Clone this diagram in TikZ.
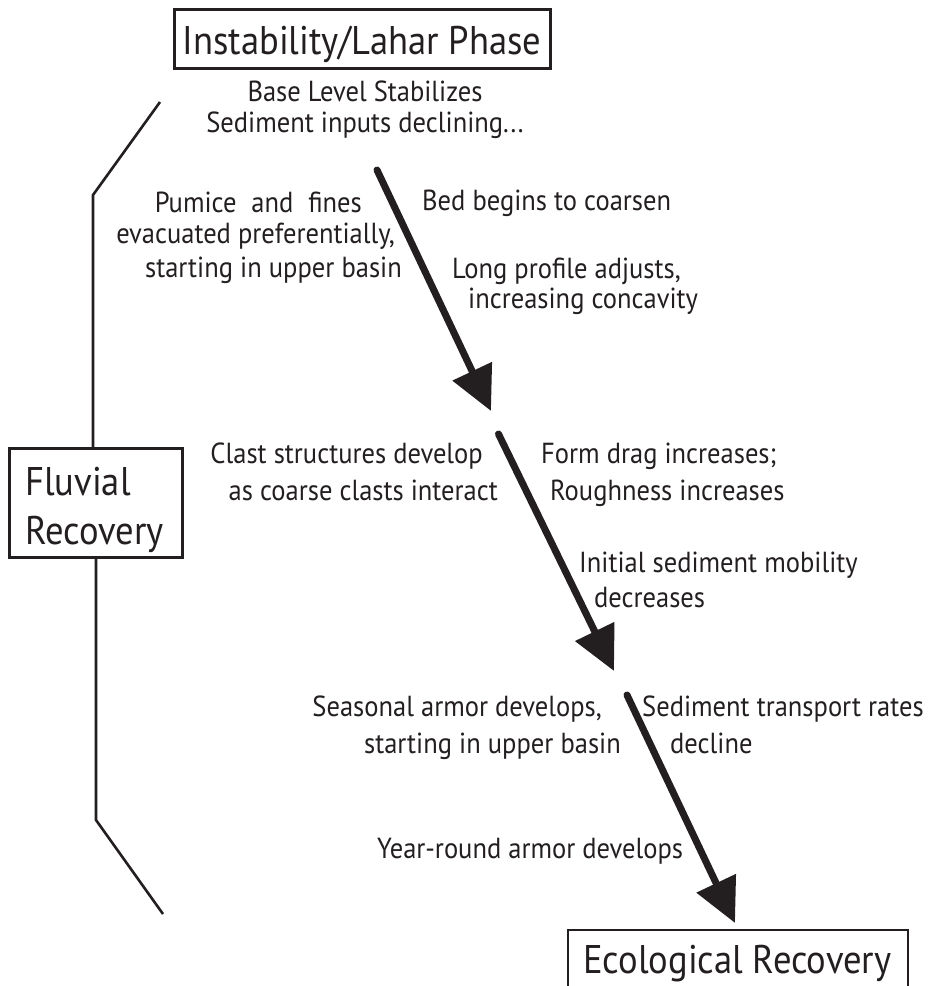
\documentclass[tikz,border=0pt]{standalone}
\usepackage{fontspec}
\setmainfont{PT Sans}[FakeStretch=0.915]
\usetikzlibrary{arrows.meta}
\definecolor{ink}{RGB}{35,31,32}
\begin{document}
\begin{tikzpicture}[x=1pt,y=-1pt,
  txt/.style={inner sep=0pt, font=\fontsize{29}{34}\selectfont, text=ink},
  big/.style={inner sep=0pt, font=\fontsize{40}{48}\selectfont, text=ink},
  thinline/.style={line width=2.6pt, draw=ink},
  flow/.style={line width=7pt, draw=ink, line cap=round, -{Triangle[length=44pt,width=42pt]}},
]
\useasboundingbox (0,0) rectangle (932,986);

% top box
\node[thinline, draw, anchor=north west, inner sep=0pt, minimum width=376pt, minimum height=59pt] (topbox) at (173,8) {};
\node[big, anchor=base] (title) at (362,54) {Instability/Lahar Phase};
\node[txt, anchor=base] (t1) at (365,101) {Base Level Stabilizes};
\node[txt, anchor=base] (t2) at (365,132) {Sediment inputs declining...};

% fluvial box
\node[thinline, draw, anchor=north west, inner sep=0pt, minimum width=173pt, minimum height=109pt] (fluv) at (8,447) {};
\node[big, anchor=base west] (fl1) at (25,495) {Fluvial};
\node[big, anchor=base west] (fl2) at (25,544) {Recovery};

% bracket
\coordinate (bt) at (160,102);
\coordinate (bk1) at (93,195);
\coordinate (bk2) at (96,820);
\coordinate (bb) at (163,914);
\draw[thinline] (bt) -- (bk1) -- (bk1 |- fluv.north);
\draw[thinline] (fluv.south -| bk2) -- (bk2) -- (bb);

% arrows
\coordinate (a1s) at (377,170); \coordinate (a1e) at (491,411);
\coordinate (a2s) at (498.5,434); \coordinate (a2e) at (614,671);
\coordinate (a3s) at (627,695); \coordinate (a3e) at (735,923);
\draw[flow] (a1s) -- (a1e);
\draw[flow] (a2s) -- (a2e);
\draw[flow] (a3s) -- (a3e);

% block 1
\node[txt, anchor=base east] (p1) at (362,212) {\makebox[207pt][s]{Pumice and fines}};
\node[txt, anchor=base east] (p2) at (395,243) {evacuated preferentially,};
\node[txt, anchor=base east] (p3) at (402,277) {starting in upper basin};
\node[txt, anchor=base west] (b1) at (422,210) {Bed begins to coarsen};
\node[txt, anchor=base west] (b2) at (452,278) {Long profile adjusts,};
\node[txt, anchor=base west] (b3) at (468,308) {increasing concavity};

% block 2
\node[txt, anchor=base east] (c1) at (483,463) {Clast structures develop};
\node[txt, anchor=base east] (c2) at (498,500) {as coarse clasts interact};
\node[txt, anchor=base west] (f1) at (541,463) {Form drag increases;};
\node[txt, anchor=base west] (f2) at (550,500) {Roughness increases};
\node[txt, anchor=base west] (i1) at (579,572) {Initial sediment mobility};
\node[txt, anchor=base west] (i2) at (594,607) {decreases};

% block 3
\node[txt, anchor=base east] (s1) at (602,716) {Seasonal armor develops,};
\node[txt, anchor=base east] (s2) at (621,753) {starting in upper basin};
\node[txt, anchor=base west] (r1) at (642,716) {Sediment transport rates};
\node[txt, anchor=base west] (r2) at (670,753) {decline};
\node[txt, anchor=base west] (y1) at (377,858) {Year-round armor develops};

% ecological box
\coordinate (eb1) at (568,995);
\coordinate (eb2) at (568,930);
\coordinate (eb3) at (908,930);
\coordinate (eb4) at (908,995);
\draw[thinline] (eb1) -- (eb2) -- (eb3) -- (eb4);
\node[big, anchor=base west] (eco) at (583,973) {Ecological Recovery};
\end{tikzpicture}
\end{document}
